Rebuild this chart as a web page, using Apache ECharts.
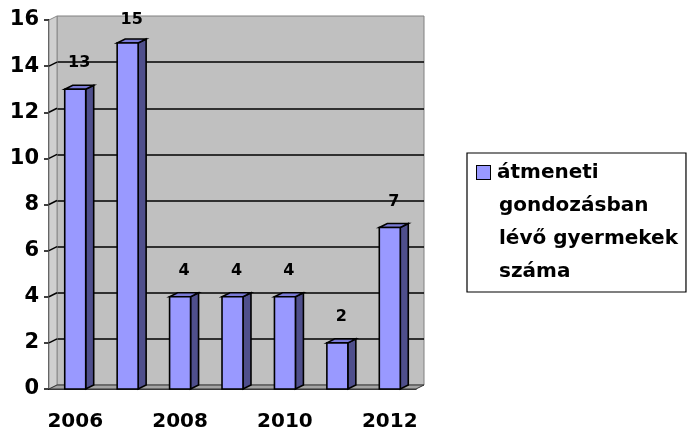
<!DOCTYPE html>
<html>
<head>
<meta charset="utf-8">
<script src="https://cdn.jsdelivr.net/npm/echarts@6/dist/echarts.min.js"></script>
<style>
  html, body { margin: 0; padding: 0; background: #fff; }
  #chart { width: 688px; height: 432px; }
</style>
</head>
<body>
<div id="chart"></div>
<script>
// data
var years = ['2006', '2007', '2008', '2009', '2010', '2011', '2012']
var counts = [13, 15, 4, 4, 4, 2, 7]
var seriesName = 'átmeneti gondozásban lévő gyermekek száma'
var legendLines = ['átmeneti', 'gondozásban', 'lévő gyermekek', 'száma']

var FONT = 'DejaVu Sans'
var DX = 8   // depth of the fake 3d
var DY = 4

var chart = echarts.init(document.getElementById('chart'))

// walls + floor, drawn from the axis scale
function renderWalls(params, api) {
  var n = years.length
  var bl = api.coord([0, 0])
  var band = api.size([1, 0])[0]
  var x0 = bl[0] - band / 2
  var x1 = x0 + band * n
  var yBottom = bl[1]
  var yTop = api.coord([0, 16])[1]
  var children = [
    {
      type: 'polygon',
      shape: { points: [[x0, yBottom], [x0, yTop], [x0 + DX, yTop - DY], [x0 + DX, yBottom - DY]] },
      style: { fill: '#cfcfcf', stroke: '#8a8a8a', lineWidth: 1 }
    },
    {
      type: 'polygon',
      shape: { points: [[x0, yBottom], [x1, yBottom], [x1 + DX, yBottom - DY], [x0 + DX, yBottom - DY]] },
      style: { fill: '#a4a4a4', stroke: '#333', lineWidth: 1 }
    }
  ]
  // grid lines running across the side wall
  for (var v = 2; v < 16; v += 2) {
    var y = api.coord([0, v])[1]
    children.push({
      type: 'line',
      shape: { x1: x0, y1: y, x2: x0 + DX, y2: y - DY },
      style: { stroke: '#000', lineWidth: 1.5 }
    })
  }
  return { type: 'group', children: children }
}

function renderBar(params, api) {
  var idx = api.value(0)
  var val = api.value(1)
  var base = api.coord([idx, 0])
  var top = api.coord([idx, val])
  var band = api.size([1, 0])[0]
  var w = band * 0.4
  var l = base[0] - w / 2
  var r = base[0] + w / 2
  var yb = base[1]
  var yt = top[1]
  var edge = { stroke: '#000', lineWidth: 1.6 }
  return {
    type: 'group',
    children: [
      {
        type: 'polygon',
        shape: { points: [[r, yt], [r + DX, yt - DY], [r + DX, yb - DY], [r, yb]] },
        style: Object.assign({ fill: '#4f4f8c' }, edge)
      },
      {
        type: 'polygon',
        shape: { points: [[l, yt], [l + DX, yt - DY], [r + DX, yt - DY], [r, yt]] },
        style: Object.assign({ fill: '#7a7ad6' }, edge)
      },
      {
        type: 'rect',
        shape: { x: l, y: yt, width: w, height: yb - yt },
        style: Object.assign({ fill: '#9999ff' }, edge)
      },
      {
        type: 'text',
        style: {
          text: String(val),
          x: base[0] + DX / 2,
          y: Math.max(yt - 26, 20),
          align: 'center',
          verticalAlign: 'middle',
          fill: '#000',
          font: 'bold 16px "' + FONT + '"'
        }
      }
    ]
  }
}

var legendRich = {
  sq: { width: 13, height: 13, backgroundColor: '#9999ff', borderColor: '#000', borderWidth: 1, lineHeight: 33 },
  a: { padding: [0, 0, 0, 7], lineHeight: 33, fontFamily: FONT, fontWeight: 'bold', fontSize: 20, color: '#000' },
  b: { padding: [0, 0, 0, 22], lineHeight: 33, fontFamily: FONT, fontWeight: 'bold', fontSize: 20, color: '#000' }
}

chart.setOption({
  backgroundColor: '#fff',
  animation: false,
  grid: [
    // back wall
    { left: 57, right: 264, top: 16, bottom: 47, show: true, backgroundColor: '#c0c0c0', borderColor: '#808080', borderWidth: 1 },
    // front frame with the axes
    { left: 49, right: 272, top: 20, bottom: 43 }
  ],
  xAxis: [
    { gridIndex: 0, type: 'category', data: years, show: false },
    {
      gridIndex: 1,
      type: 'category',
      data: years,
      axisLine: { lineStyle: { color: '#000', width: 1.5 } },
      axisTick: { interval: 0, length: 5, lineStyle: { color: '#000', width: 1.5 } },
      axisLabel: { interval: 1, margin: 23, color: '#000', fontFamily: FONT, fontWeight: 'bold', fontSize: 20 }
    }
  ],
  yAxis: [
    {
      gridIndex: 0, min: 0, max: 16, interval: 2,
      axisLine: { show: false }, axisTick: { show: false }, axisLabel: { show: false },
      splitLine: { show: true, showMinLine: false, showMaxLine: false, lineStyle: { color: '#000', width: 1.5 } }
    },
    {
      gridIndex: 1, min: 0, max: 16, interval: 2,
      axisLine: { show: true, lineStyle: { color: '#000', width: 1.5 } },
      axisTick: { show: true, length: 5, lineStyle: { color: '#000', width: 1.5 } },
      axisLabel: { margin: 10, color: '#000', fontFamily: FONT, fontWeight: 'bold', fontSize: 21 },
      splitLine: { show: false }
    }
  ],
  legend: {
    left: 467,
    top: 153,
    orient: 'vertical',
    data: [seriesName],
    itemWidth: 0,
    itemHeight: 0,
    icon: 'rect',
    itemStyle: { opacity: 0 },
    padding: [3, 8, 4, 5],
    borderColor: '#000',
    borderWidth: 1.2,
    formatter: function () {
      return legendLines.map(function (t, i) {
        return i === 0 ? '{sq|}{a|' + t + '}' : '{b|' + t + '}'
      }).join('\n')
    },
    textStyle: { lineHeight: 33, rich: legendRich }
  },
  series: [
    {
      type: 'custom',
      name: 'walls',
      xAxisIndex: 1,
      yAxisIndex: 1,
      silent: true,
      z: 1,
      renderItem: renderWalls,
      data: [[0, 0]]
    },
    {
      type: 'custom',
      name: seriesName,
      xAxisIndex: 1,
      yAxisIndex: 1,
      z: 3,
      renderItem: renderBar,
      encode: { x: 0, y: 1 },
      data: counts.map(function (c, i) { return [i, c] })
    }
  ]
})
</script>
</body>
</html>
